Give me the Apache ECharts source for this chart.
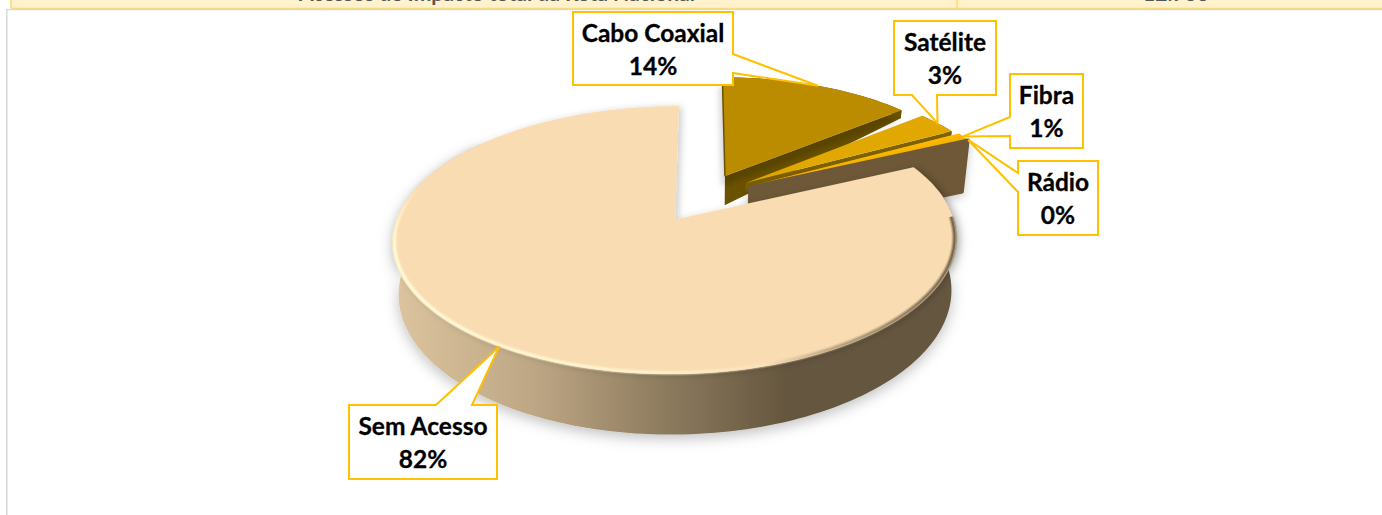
<!DOCTYPE html>
<html>
<head>
<meta charset="utf-8">
<title>Acesso à internet</title>
<style>
  html, body { margin: 0; padding: 0; background: #fff; }
  #chart { width: 1382px; height: 515px; }
</style>
<script src="https://cdn.jsdelivr.net/npm/echarts@6/dist/echarts.min.js"></script>
</head>
<body>
<div id="chart"></div>
<script>
var categories = ['Cabo Coaxial', 'Satélite', 'Fibra', 'Rádio', 'Sem Acesso'];
var shares = [14, 3, 1, 0, 82];

// look of each slice, same order as categories
var topColors = ['#bb8c00', '#e0a800', '#ffba00', '#ffc000', '#f9dcb2'];
var sideColors = ['#6b5200', '#7d6000', '#8a6a00', '#6e5838', '#65563f'];
var sliceRadius = [0.95, 0.95, 0.965, 0.965, 1];
var sliceLift = [3, 4, 3, 3, 1];
var faceDepth = [[30, 9], [9, 5], [4, 3], [50, 56], [50, 50]];

// callout boxes: x, y, w, h, side the pointer leaves from, pointer base on that side
var boxes = [
  [573, 12, 160, 73, 'right', 54, 73],
  [894, 21, 102, 74, 'bottom', 912, 937],
  [1010, 74, 73, 74, 'left', 117, 136],
  [1018, 161, 80, 74, 'left', 173, 192],
  [349, 405, 148, 74, 'top', 436, 472]
];

// 3d view of the pie
var cx = 703.5, cy = 200, rx = 272, ry = 124.6, persp = 0.15, explode = 0.19;

var total = shares.reduce(function(a, b) { return a + b; }, 0);

function project(u, v, depth) {
  var w = 1 + persp * v;
  var narrow = 1 - 0.02 * (depth || 0) / 50;
  return [cx + rx * u * narrow / w, cy - ry * v / w + (depth || 0) / w];
}

function sliceAngles(i) {
  var before = 0;
  for (var k = 0; k < i; k++) before += shares[k];
  var a0 = before / total * Math.PI * 2;
  return [a0, a0 + shares[i] / total * Math.PI * 2];
}

// point of slice i at angle a and radial fraction r, lowered by depth
function slicePoint(i, a, r, depth) {
  var ang = sliceAngles(i);
  var mid = (ang[0] + ang[1]) / 2;
  var u0 = explode * Math.sin(mid), v0 = explode * Math.cos(mid);
  var rad = sliceRadius[i] * r;
  var p = project(u0 + rad * Math.sin(a), v0 + rad * Math.cos(a), depth);
  return [p[0], p[1] - sliceLift[i]];
}

function arcPoints(i, a0, a1, r, depth) {
  var pts = [];
  var n = Math.max(2, Math.ceil((a1 - a0) * 40));
  for (var k = 0; k <= n; k++) {
    pts.push(slicePoint(i, a0 + (a1 - a0) * k / n, r, depth));
  }
  return pts;
}

function globalGradient(x0, x1, stops) {
  return new echarts.graphic.LinearGradient(x0, 0, x1, 0, stops, true);
}

var wallFill = globalGradient(395, 955, [
  { offset: 0, color: '#dcc49e' },
  { offset: 0.25, color: '#bda684' },
  { offset: 0.47, color: '#8f7d60' },
  { offset: 0.7, color: '#65563f' },
  { offset: 1, color: '#65563f' }
]);
var rimFront = globalGradient(395, 955, [
  { offset: 0, color: '#fffbd8' },
  { offset: 0.45, color: '#fff3cc' },
  { offset: 0.66, color: '#f9e2ba' },
  { offset: 0.78, color: '#b9a27f' },
  { offset: 1, color: '#6b5b44' }
]);
// the light rim fades out going up the left side
var rimLeft = new echarts.graphic.LinearGradient(0, 185, 0, 245, [
  { offset: 0, color: 'rgba(255,251,216,0)' },
  { offset: 1, color: '#fffbd8' }
], true);

function calloutPoints(box, tip) {
  var x = box[0], y = box[1], x2 = box[0] + box[2], y2 = box[1] + box[3];
  var p = box[5], q = box[6];
  if (box[4] === 'right') return [[x, y], [x2, y], [x2, p], tip, [x2, q], [x2, y2], [x, y2]];
  if (box[4] === 'left') return [[x, y], [x2, y], [x2, y2], [x, y2], [x, q], tip, [x, p]];
  if (box[4] === 'bottom') return [[x, y], [x2, y], [x2, y2], [q, y2], tip, [p, y2], [x, y2]];
  return [[x, y], [p, y], tip, [q, y], [x2, y], [x2, y2], [x, y2]];
}

function rimStrokes(points, stroke) {
  return [
    { type: 'polyline', shape: { points: points }, style: { fill: 'none', stroke: stroke, lineWidth: 6, opacity: 0.22 } },
    { type: 'polyline', shape: { points: points }, style: { fill: 'none', stroke: stroke, lineWidth: 4, opacity: 0.4 } },
    { type: 'polyline', shape: { points: points }, style: { fill: 'none', stroke: stroke, lineWidth: 2, opacity: 0.8 } }
  ];
}

function renderSlice(params, api) {
  var i = params.dataIndex;
  var ang = sliceAngles(i);
  var a0 = ang[0], a1 = ang[1], mid = (a0 + a1) / 2;
  var isMain = i === categories.length - 1;
  var apex = slicePoint(i, 0, 0, 0);
  var children = [];

  // outer wall, the back of the big slice never shows
  if (a1 > a0) {
    var wallEnd = isMain ? Math.min(a1, 5.4) : a1;
    var wallTop = arcPoints(i, a0, wallEnd, 1, 0);
    var wallBottom = arcPoints(i, a0, wallEnd, 1, faceDepth[i][1]).reverse();
    children.push({
      type: 'polygon',
      shape: { points: wallTop.concat(wallBottom) },
      style: isMain
        ? { fill: wallFill, shadowBlur: 14, shadowColor: 'rgba(0,0,0,0.25)', shadowOffsetY: 4 }
        : { fill: sideColors[i] }
    });
  }

  // cut face on the clockwise edge
  if (!isMain) {
    var tipTop = slicePoint(i, a1, 1, 0);
    var tipLow = slicePoint(i, a1, 1, faceDepth[i][1]);
    var apexLow = slicePoint(i, a1, 0, faceDepth[i][0]);
    children.push({
      type: 'polygon',
      shape: { points: [apex, tipTop, tipLow, apexLow] },
      style: i === 3
        ? { fill: sideColors[i], stroke: sideColors[i], lineWidth: 3, lineJoin: 'round',
            shadowBlur: 10, shadowColor: 'rgba(0,0,0,0.2)', shadowOffsetY: 3 }
        : { fill: sideColors[i] }
    });
  }

  // top face
  if (a1 > a0) {
    var topPts = [apex].concat(arcPoints(i, a0, a1, 1, 0));
    children.push({
      type: 'polygon',
      shape: { points: topPts },
      style: isMain
        ? { fill: topColors[i], shadowBlur: 7, shadowColor: 'rgba(0,0,0,0.2)', shadowOffsetX: 3, shadowOffsetY: 1 }
        : i === 0
          ? { fill: topColors[i], shadowBlur: 6, shadowColor: 'rgba(0,0,0,0.18)', shadowOffsetX: -3, shadowOffsetY: 10 }
          : { fill: topColors[i] }
    });
  }
  if (i === 0) {
    children.push({
      type: 'line',
      shape: { x1: apex[0], y1: apex[1], x2: topPts[1][0], y2: topPts[1][1] },
      style: { stroke: sideColors[0], lineWidth: 1.5 }
    });
  }

  // bevel along the front of the big slice
  if (isMain) {
    children = children.concat(rimStrokes(arcPoints(i, 1.55, 4.2, 0.993, 0), rimFront));
    children = children.concat(rimStrokes(arcPoints(i, 4.2, 5.0, 0.993, 0), rimLeft));
  }

  // callout
  var box = boxes[i];
  var tip = slicePoint(i, mid, 1, 0);
  children.push({
    type: 'polygon',
    z2: 50,
    shape: { points: calloutPoints(box, tip) },
    style: { fill: '#fff', stroke: '#ffc000', lineWidth: 2 }
  });
  var tx = box[0] + box[2] / 2;
  var labelFont = 'bold 24.5px Lato, "Open Sans", sans-serif';
  children.push({
    type: 'text',
    z2: 51,
    style: {
      x: tx, y: box[1] + 20.5, text: categories[i], fill: '#000', stroke: '#000', lineWidth: 0.3,
      font: labelFont, align: 'center', verticalAlign: 'middle'
    }
  });
  children.push({
    type: 'text',
    z2: 51,
    style: {
      x: tx, y: box[1] + 53.5, text: Math.round(api.value(0) / total * 100) + '%', fill: '#000', stroke: '#000', lineWidth: 0.3,
      font: labelFont, align: 'center', verticalAlign: 'middle'
    }
  });
  return { type: 'group', children: children };
}

var chart = echarts.init(document.getElementById('chart'), null, { renderer: 'svg' });
chart.setOption({
  animation: false,
  backgroundColor: '#fff',
  graphic: [
    // piece of the table above the chart, cut off by the crop
    { type: 'text', z: -1, style: { x: 497, y: -18, text: 'Acessos de Impacto total da Rota Nacional', fill: '#555',
      font: 'bold 21px Lato, sans-serif', align: 'center', verticalAlign: 'top' } },
    { type: 'text', z: -1, style: { x: 1176, y: -18, text: '12.788', fill: '#555',
      font: 'bold 21px Lato, sans-serif', align: 'center', verticalAlign: 'top' } },
    { type: 'rect', z: -2, shape: { x: 11, y: 0, width: 1371, height: 8 }, style: { fill: '#fff2cc' } },
    { type: 'line', z: -1, shape: { x1: 11, y1: 0, x2: 11, y2: 8 }, style: { stroke: '#ffd966', lineWidth: 1.5 } },
    { type: 'line', z: -1, shape: { x1: 957, y1: 0, x2: 957, y2: 8 }, style: { stroke: '#ffd966', lineWidth: 1.5 } },
    { type: 'line', z: -1, shape: { x1: 11, y1: 8.5, x2: 1382, y2: 8.5 }, style: { stroke: '#ffd966', lineWidth: 1.5 } },
    { type: 'line', z: -1, shape: { x1: 7, y1: 9.5, x2: 1382, y2: 9.5 }, style: { stroke: '#d9d9d9', lineWidth: 1.5 } },
    { type: 'line', z: -1, shape: { x1: 6.8, y1: 9, x2: 6.8, y2: 515 }, style: { stroke: '#d9d9d9', lineWidth: 1.5 } }
  ],
  series: [{
    type: 'custom',
    coordinateSystem: 'none',
    silent: true,
    data: shares.map(function(v, i) { return { name: categories[i], value: [v] }; }),
    renderItem: renderSlice
  }]
});
window.addEventListener('resize', function() { chart.resize(); });
</script>
</body>
</html>
